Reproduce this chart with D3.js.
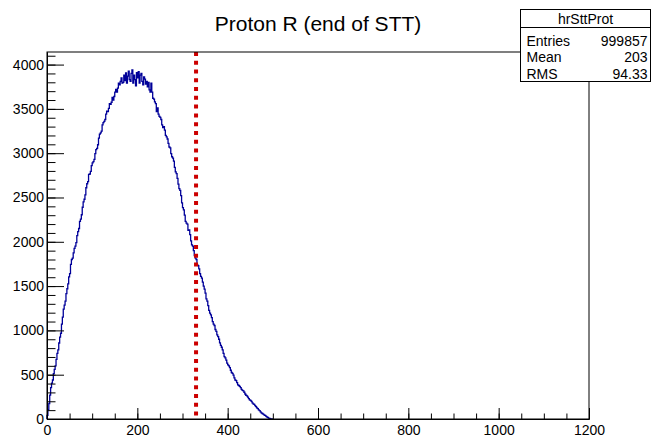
<!DOCTYPE html>
<html>
<head>
<meta charset="utf-8">
<script src="https://cdn.jsdelivr.net/npm/d3@7"></script>
<style>
  body { margin: 0; background: #fff; }
  svg { display: block; font-family: "Liberation Sans", Arial, Helvetica, sans-serif; }
</style>
</head>
<body>
<svg id="drawing_region"></svg>
<script>
// histogram hrSttProt, bins of width 2 starting at 0 (counts)
const binWidth = 2;
const binCounts = [
    40, 105, 175, 270, 355, 405, 440, 512, 560, 600,
    672, 741, 780, 858, 925, 968, 1070, 1150, 1240, 1285,
    1330, 1415, 1470, 1525, 1605, 1640, 1745, 1800, 1815, 1875,
    1925, 1950, 1990, 2070, 2115, 2150, 2230, 2255, 2305, 2390,
    2450, 2480, 2530, 2610, 2655, 2680, 2760, 2765, 2795, 2860,
    2890, 2905, 2930, 2995, 3040, 3055, 3095, 3170, 3215, 3230,
    3250, 3320, 3345, 3360, 3380, 3440, 3475, 3470, 3505, 3560,
    3550, 3575, 3630, 3600, 3640, 3690, 3720, 3690, 3735, 3790,
    3770, 3810, 3850, 3790, 3800, 3880, 3820, 3905, 3790, 3870,
    3925, 3830, 3810, 3900, 3940, 3790, 3880, 3830, 3760, 3910,
    3850, 3920, 3790, 3880, 3900, 3810, 3770, 3860, 3835, 3780,
    3810, 3750, 3800, 3715, 3690, 3790, 3690, 3620, 3610, 3580,
    3560, 3470, 3510, 3440, 3415, 3405, 3380, 3320, 3290, 3300,
    3260, 3200, 3185, 3160, 3110, 3070, 3060, 2995, 2960, 2945,
    2910, 2840, 2790, 2770, 2715, 2650, 2600, 2580, 2520, 2440,
    2385, 2360, 2300, 2230, 2210, 2200, 2130, 2135, 2080, 2010,
    1965, 1950, 1900, 1845, 1815, 1800, 1740, 1730, 1695, 1640,
    1610, 1590, 1545, 1500, 1465, 1420, 1355, 1330, 1280, 1225,
    1195, 1175, 1145, 1100, 1070, 1055, 1010, 990, 950, 930,
    900, 860, 830, 810, 780, 740, 705, 690, 665, 630,
    610, 600, 580, 550, 525, 515, 495, 465, 440, 432,
    410, 385, 378, 368, 355, 335, 322, 318, 302, 282,
    268, 262, 248, 230, 216, 210, 198, 182, 170, 165,
    152, 140, 125, 118, 104, 94, 80, 70, 62, 55,
    47, 40, 32, 25, 18, 11, 6, 2, 0, 0
];
const xRange = [0, 1200];
const yRange = [0, 4142];
const xTicks = [0, 200, 400, 600, 800, 1000, 1200];
const yTicks = [0, 500, 1000, 1500, 2000, 2500, 3000, 3500, 4000];
const cutValue = 330;
const statLabels = ['Entries', 'Mean', 'RMS'];
const statValues = ['999857', '203', '94.33'];

class HistChart {

    constructor( config ) {
        this.config = config;
        this.init();
    }

    init() {
        let self = this;

        self.svg = d3.select( self.config.parent )
            .attr('width', self.config.width)
            .attr('height', self.config.height);

        self.svg.append('rect')
            .attr('width', self.config.width)
            .attr('height', self.config.height)
            .attr('fill', '#fff');

        self.chart = self.svg.append('g')
            .attr('transform', `translate(${self.config.margin.left}, ${self.config.margin.top})`);

        self.inner_width = self.config.width - self.config.margin.left - self.config.margin.right;
        self.inner_height = self.config.height - self.config.margin.top - self.config.margin.bottom;

        self.xscale = d3.scaleLinear()
            .domain( xRange )
            .range( [0, self.inner_width] );

        self.yscale = d3.scaleLinear()
            .domain( yRange )
            .range( [self.inner_height, 0] );
    }

    render() {
        let self = this;

        // histogram outline (ROOT "HIST" style steps)
        const pts = [[0, 0]];
        binCounts.forEach( (c, i) => pts.push([i * binWidth, c]) );
        pts.push([binCounts.length * binWidth, 0]);

        const line = d3.line()
            .x( d => self.xscale(d[0]) )
            .y( d => self.yscale(d[1]) )
            .curve( d3.curveStepAfter );

        self.chart.append('path')
            .datum(pts)
            .attr('d', line)
            .attr('fill', 'none')
            .attr('stroke', '#000099')
            .attr('stroke-width', 1.3);

        // cut line
        self.chart.append('line')
            .attr('x1', self.xscale(cutValue))
            .attr('x2', self.xscale(cutValue))
            .attr('y1', 0)
            .attr('y2', self.inner_height)
            .attr('stroke', '#cc0000')
            .attr('stroke-width', 4)
            .attr('stroke-dasharray', '4,4.77');

        // axes: major + minor ticks pointing inward
        const xminor = d3.range(xRange[0], xRange[1] + 1, 50);
        const yminor = d3.range(0, 4101, 100);
        const fmt = d3.format('d');

        self.chart.append('g')
            .attr('transform', `translate(0, ${self.inner_height})`)
            .call( d3.axisBottom(self.xscale).tickValues(xminor).tickSizeInner(-5.5).tickSizeOuter(0).tickFormat('') );
        self.chart.append('g')
            .attr('transform', `translate(0, ${self.inner_height})`)
            .call( d3.axisBottom(self.xscale).tickValues(xTicks).tickSizeInner(-11).tickSizeOuter(0).tickPadding(6).tickFormat(fmt) );

        self.chart.append('g')
            .call( d3.axisLeft(self.yscale).tickValues(yminor).tickSizeInner(-8.5).tickSizeOuter(0).tickFormat('') );
        self.chart.append('g')
            .call( d3.axisLeft(self.yscale).tickValues(yTicks).tickSizeInner(-17).tickSizeOuter(0).tickPadding(3).tickFormat(fmt) );

        self.chart.selectAll('.tick text')
            .style('font-size', '14px')
            .style('font-family', '"Liberation Sans", Arial, sans-serif')
            .attr('fill', '#000');
        self.chart.selectAll('.tick line').attr('stroke', '#000');
        self.chart.selectAll('.domain').attr('stroke', '#000');

        // frame
        self.chart.append('rect')
            .attr('width', self.inner_width)
            .attr('height', self.inner_height)
            .attr('fill', 'none')
            .attr('stroke', '#000')
            .attr('stroke-width', 1);

        // title
        self.svg.append('text')
            .attr('x', self.config.margin.left + self.inner_width / 2)
            .attr('y', 31)
            .attr('text-anchor', 'middle')
            .style('font-size', '21px')
            .text( self.config.title );

        // stats box
        const box = self.svg.append('g').attr('transform', 'translate(520.5, 9.5)');
        box.append('rect')
            .attr('width', 130)
            .attr('height', 72)
            .attr('fill', '#fff')
            .attr('stroke', '#000');
        box.append('line')
            .attr('x1', 0).attr('x2', 130)
            .attr('y1', 18).attr('y2', 18)
            .attr('stroke', '#000');
        box.append('text')
            .attr('x', 65)
            .attr('y', 14)
            .attr('text-anchor', 'middle')
            .style('font-size', '14px')
            .text('hrSttProt');
        statLabels.forEach( (lab, i) => {
            box.append('text')
                .attr('x', 6)
                .attr('y', 36 + i * 16.5)
                .style('font-size', '14px')
                .text(lab);
            box.append('text')
                .attr('x', 127)
                .attr('y', 36 + i * 16.5)
                .attr('text-anchor', 'end')
                .style('font-size', '14px')
                .text(statValues[i]);
        });
    }
}

const chart = new HistChart({
    parent: '#drawing_region',
    width: 651,
    height: 440,
    margin: {top: 52, right: 62, bottom: 21, left: 47},
    title: 'Proton R (end of STT)'
});
chart.render();
</script>
</body>
</html>
